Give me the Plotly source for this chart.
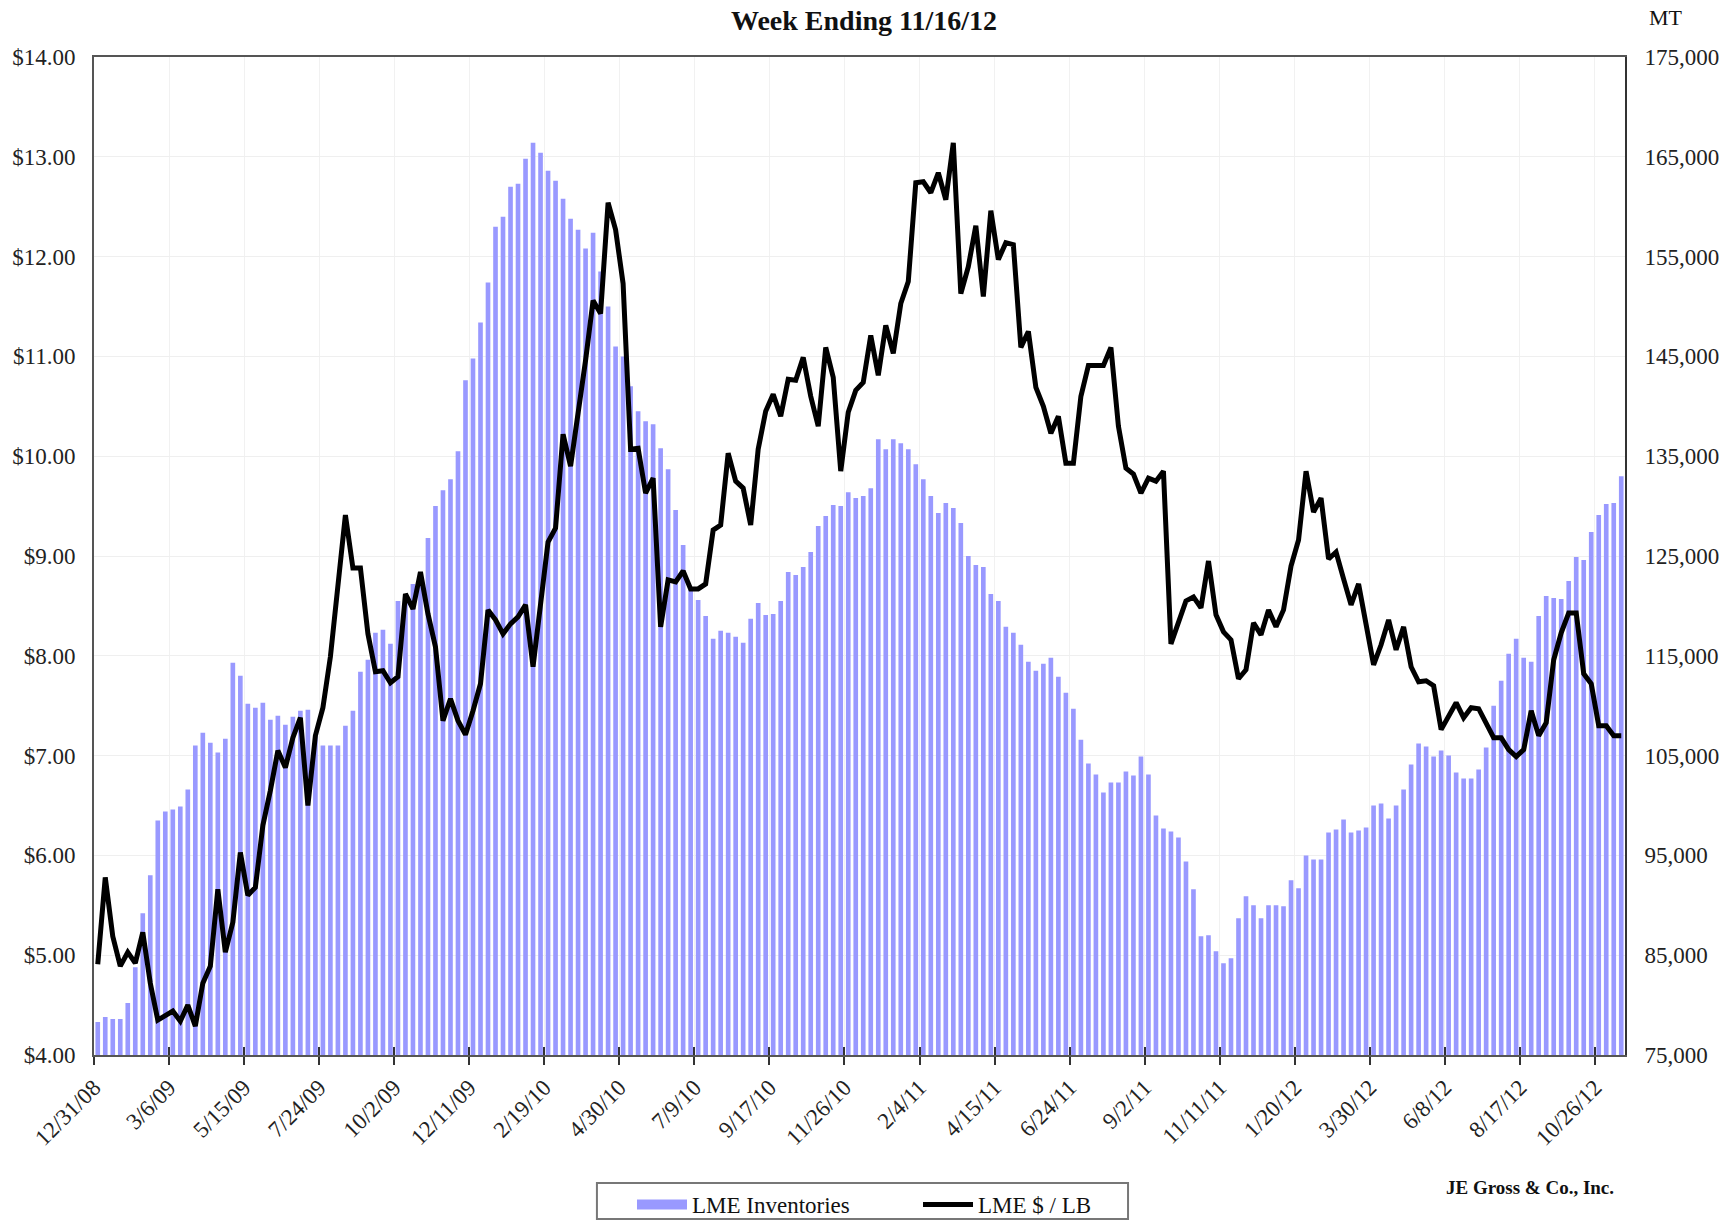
import plotly.graph_objects as go

# ---------------- data ----------------
tick_labels = ["12/31/08", "3/6/09", "5/15/09", "7/24/09", "10/2/09", "12/11/09",
               "2/19/10", "4/30/10", "7/9/10", "9/17/10", "11/26/10", "2/4/11",
               "4/15/11", "6/24/11", "9/2/11", "11/11/11", "1/20/12", "3/30/12",
               "6/8/12", "8/17/12", "10/26/12"]

# LME inventories (MT), weekly, 12/31/08 .. 11/16/12
inventory_mt = [
    78300, 78800, 78600, 78600, 80200, 83800, 89200, 93000, 98500, 99400,
    99600, 99900, 101600, 106000, 107300, 106300, 105300, 106700, 114300, 113000,
    110200, 109800, 110300, 108600, 109000, 108100, 108900, 109500, 109600, 107000,
    106000, 106000, 106000, 108000, 109500, 113400, 114600, 117300, 117600, 116200,
    120500, 121000, 122200, 123000, 126800, 130000, 131600, 132700, 135500, 142600,
    144800, 148400, 152400, 158000, 159000, 162000, 162300, 164800, 166400, 165400,
    163600, 162600, 160800, 158800, 157700, 155800, 157400, 153500, 150000, 146000,
    145000, 142000, 139500, 138500, 138200, 135800, 133700, 129600, 126100, 121600,
    120600, 119000, 116700, 117500, 117300, 116900, 116300, 118700, 120300, 119100,
    119200, 120500, 123400, 123100, 123900, 125400, 128000, 129000, 130100, 130000,
    131400, 130800, 131000, 131800, 136700, 135700, 136700, 136300, 135700, 134200,
    132700, 131000, 129300, 130300, 129800, 128300, 125000, 124100, 123900, 121200,
    120500, 117900, 117300, 116100, 114400, 113500, 114200, 114800, 112900, 111300,
    109700, 106600, 104200, 103100, 101300, 102300, 102300, 103400, 103000, 104900,
    103100, 99000, 97700, 97400, 96800, 94400, 91600, 86900, 87000, 85400,
    84200, 84700, 88700, 90900, 90000, 88700, 90000, 90000, 89900, 92500,
    91700, 95000, 94600, 94600, 97300, 97600, 98600, 97300, 97500, 97800,
    100000, 100200, 98700, 100000, 101600, 104100, 106200, 105900, 104900, 105500,
    105000, 103300, 102700, 102700, 103600, 105800, 110000, 112500, 115200, 116700,
    114800, 114400, 119000, 121000, 120800, 120700, 122500, 124900, 124600, 127400,
    129100, 130200, 130300, 133000,
]

# LME price ($ / lb), weekly
price_usd_lb = [
    4.91, 5.78, 5.19, 4.89, 5.03, 4.92, 5.23, 4.72, 4.35, 4.39,
    4.44, 4.34, 4.50, 4.29, 4.72, 4.89, 5.66, 5.03, 5.33, 6.03,
    5.60, 5.68, 6.30, 6.65, 7.05, 6.88, 7.18, 7.38, 6.50, 7.20,
    7.48, 7.99, 8.66, 9.41, 8.88, 8.88, 8.22, 7.84, 7.85, 7.73,
    7.79, 8.62, 8.47, 8.84, 8.42, 8.09, 7.35, 7.57, 7.35, 7.21,
    7.45, 7.72, 8.46, 8.36, 8.22, 8.32, 8.39, 8.51, 7.89, 8.49,
    9.14, 9.28, 10.22, 9.90, 10.40, 10.96, 11.56, 11.43, 12.54, 12.27,
    11.73, 10.07, 10.08, 9.63, 9.78, 8.29, 8.76, 8.74, 8.85, 8.67,
    8.67, 8.72, 9.26, 9.31, 10.03, 9.75, 9.68, 9.31, 10.07, 10.45,
    10.62, 10.40, 10.77, 10.76, 10.99, 10.60, 10.30, 11.09, 10.79, 9.85,
    10.44, 10.66, 10.74, 11.21, 10.81, 11.31, 11.03, 11.53, 11.75, 12.74,
    12.75, 12.64, 12.84, 12.57, 13.14, 11.63, 11.90, 12.31, 11.60, 12.46,
    11.97, 12.14, 12.12, 11.09, 11.25, 10.69, 10.50, 10.23, 10.40, 9.93,
    9.93, 10.60, 10.91, 10.91, 10.91, 11.09, 10.30, 9.88, 9.82, 9.63,
    9.78, 9.75, 9.85, 8.12, 8.35, 8.55, 8.59, 8.48, 8.95, 8.41,
    8.24, 8.16, 7.77, 7.86, 8.33, 8.21, 8.46, 8.29, 8.46, 8.90,
    9.16, 9.85, 9.44, 9.58, 8.97, 9.04, 8.77, 8.51, 8.72, 8.29,
    7.91, 8.11, 8.36, 8.06, 8.29, 7.89, 7.74, 7.75, 7.70, 7.26,
    7.40, 7.53, 7.38, 7.48, 7.47, 7.33, 7.18, 7.18, 7.06, 6.99,
    7.06, 7.45, 7.20, 7.33, 7.96, 8.23, 8.43, 8.43, 7.82, 7.72,
    7.30, 7.30, 7.20, 7.20,
]

price_ticks = [4, 5, 6, 7, 8, 9, 10, 11, 12, 13, 14]
price_tick_text = ["$%.2f" % v for v in price_ticks]
inventory_ticks = [75000, 85000, 95000, 105000, 115000, 125000, 135000,
                   145000, 155000, 165000, 175000]

weeks = list(range(len(inventory_mt)))
tick_pos = [10 * k - 0.5 for k in range(len(tick_labels))]
x_range = [-0.5, len(weeks) - 0.5]

FONT = "Liberation Serif, Times New Roman, serif"
BAR_COLOR = "#9999FF"
NBSP = "\u00a0"

fig = go.Figure()
fig.add_trace(go.Bar(
    x=weeks, y=inventory_mt, name="LME Inventories",
    marker=dict(color=BAR_COLOR, line=dict(width=0)),
    xaxis="x", yaxis="y", hoverinfo="skip", showlegend=False,
))
# legend entry drawn as a wide swatch like the original
fig.add_trace(go.Scatter(
    x=[None], y=[None], name="LME Inventories" + NBSP * 11, mode="lines",
    line=dict(color=BAR_COLOR, width=11), xaxis="x", yaxis="y",
    hoverinfo="skip", showlegend=True,
))
fig.add_trace(go.Scatter(
    x=weeks, y=price_usd_lb, name="LME $ / LB", mode="lines",
    line=dict(color="#000000", width=5),
    xaxis="x2", yaxis="y2", hoverinfo="skip",
))

fig.update_layout(
    width=1736, height=1221,
    margin=dict(l=94, r=111, t=57, b=166, autoexpand=False),
    paper_bgcolor="white", plot_bgcolor="white",
    bargap=0.38,
    font=dict(family=FONT, size=23, color="#1a1a1a"),
    showlegend=True,
    hovermode=False,
    title=dict(text="<b>Week Ending 11/16/12</b>", x=0.4977, xref="container",
               xanchor="center", y=0.9836, yref="container", yanchor="middle",
               font=dict(family=FONT, size=28, color="#111111")),
    xaxis=dict(range=x_range, tickmode="array", tickvals=tick_pos, ticktext=tick_labels,
               tickangle=-45, ticks="outside", ticklen=8, tickwidth=2, tickcolor="#333333",
               showline=True, linecolor="#555555", linewidth=2, mirror=True,
               showgrid=True, gridcolor="#f1f1f1", gridwidth=1, zeroline=False,
               automargin=False,
               tickfont=dict(family=FONT, size=23, color="#222222")),
    xaxis2=dict(range=x_range, overlaying="x", anchor="y", side="bottom",
                tickmode="array", tickvals=tick_pos, ticks="inside", ticklen=8,
                tickwidth=2, tickcolor="#333333", showticklabels=False,
                showgrid=False, showline=False, zeroline=False, automargin=False),
    yaxis=dict(side="right", range=[75000, 175000], tickmode="array",
               tickvals=inventory_ticks, tickformat=",d",
               showgrid=True, gridcolor="#efefef", gridwidth=1,
               showline=True, linecolor="#333333", linewidth=2,
               zeroline=False, ticks="", ticklabelstandoff=13, automargin=False,
               tickfont=dict(family=FONT, size=23, color="#222222")),
    yaxis2=dict(side="left", overlaying="y", anchor="x2", range=[4, 14], tickmode="array",
                tickvals=price_ticks, ticktext=price_tick_text, showgrid=False,
                showline=True, linecolor="#555555", linewidth=2, zeroline=False,
                ticks="", ticklabelstandoff=12, automargin=False,
                tickfont=dict(family=FONT, size=23, color="#222222")),
    legend=dict(orientation="h", x=0.3514, xanchor="left", y=-0.1283, yanchor="top",
                borderwidth=0, bgcolor="rgba(0,0,0,0)",
                font=dict(family=FONT, size=23, color="#111111"),
                itemwidth=50, traceorder="normal"),
    shapes=[
        # legend frame
        dict(type="rect", xref="paper", yref="paper",
             x0=0.3285, x1=0.6754, y0=-0.1643, y1=-0.1283,
             line=dict(color="#777777", width=2), fillcolor="rgba(0,0,0,0)",
             layer="above"),
    ],
    annotations=[
        dict(text="MT", xref="paper", yref="paper", x=1.0268, y=1.040,
             xanchor="center", yanchor="middle", showarrow=False,
             font=dict(family=FONT, size=22, color="#111111")),
        dict(text="<b>JE Gross &amp; Co., Inc.</b>", xref="paper", yref="paper",
             x=0.994, y=-0.1323, xanchor="right", yanchor="middle", showarrow=False,
             font=dict(family=FONT, size=19, color="#111111")),
    ],
)

fig.write_html(
    "out.html",
    config={"displayModeBar": False, "staticPlot": True},
    post_script="document.body.style.margin='0';document.body.style.overflow='hidden';",
)
